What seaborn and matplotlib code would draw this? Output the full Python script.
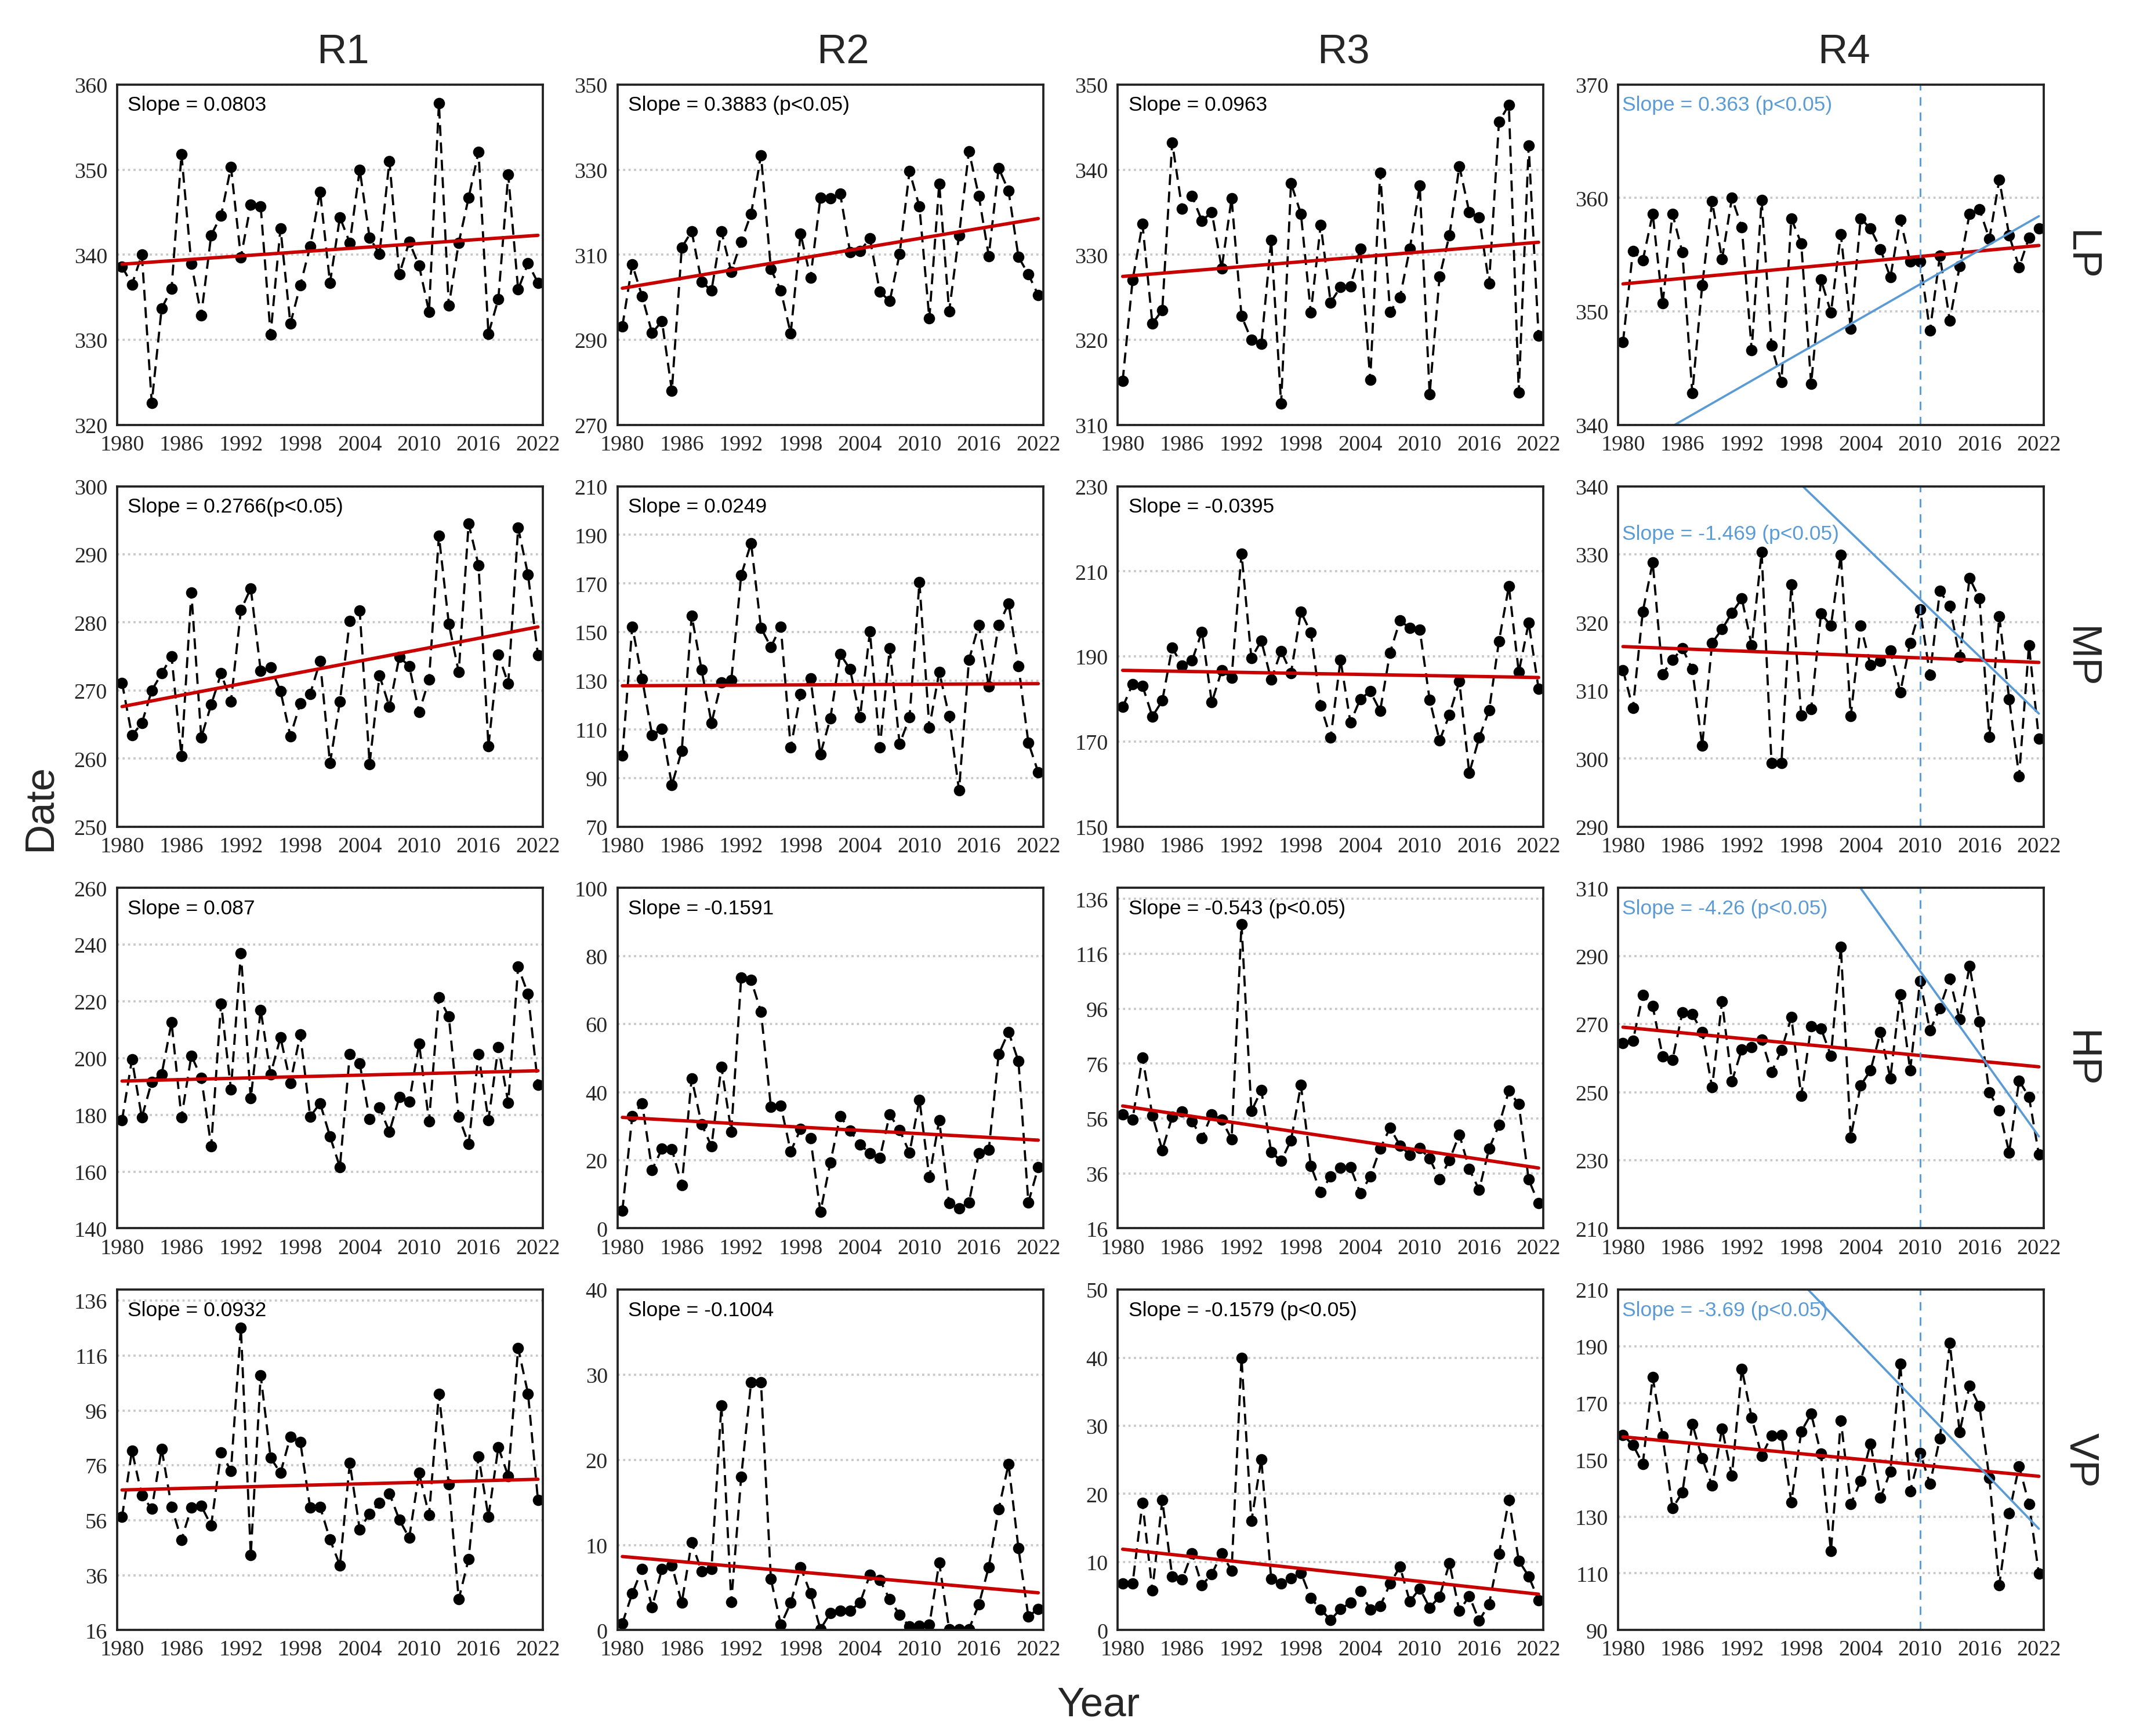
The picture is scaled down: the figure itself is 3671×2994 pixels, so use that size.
import numpy as np
import seaborn as sns
import matplotlib.pyplot as plt

years = np.arange(1980, 2023)
regions = ["R1", "R2", "R3", "R4"]
periods = ["LP", "MP", "HP", "VP"]

# ---- data (1980-2022) ----
lp_r1 = [338.6, 336.5, 340.0, 322.6, 333.7, 336.0, 351.8, 338.9, 332.9, 342.3, 344.6, 350.3, 339.7, 345.9, 345.7,
         330.6, 343.1, 331.9, 336.4, 341.0, 347.4, 336.7, 344.4, 341.4, 350.0, 342.0, 340.1, 351.0, 337.7, 341.5,
         338.7, 333.3, 357.8, 334.0, 341.4, 346.7, 352.1, 330.7, 334.8, 349.4, 335.9, 339.0, 336.7]
lp_r2 = [293.2, 307.7, 300.2, 291.6, 294.4, 278.0, 311.7, 315.5, 303.6, 301.6, 315.5, 306.0, 313.1, 319.6, 333.4,
         306.6, 301.6, 291.5, 314.9, 304.6, 323.4, 323.2, 324.3, 310.6, 310.9, 313.8, 301.3, 299.1, 310.2, 329.6,
         321.3, 295.0, 326.7, 296.7, 314.6, 334.3, 323.8, 309.7, 330.4, 325.0, 309.5, 305.4, 300.5]
lp_r3 = [315.2, 327.0, 333.6, 321.9, 323.5, 343.2, 335.4, 336.9, 334.0, 335.0, 328.4, 336.6, 322.8, 320.0, 319.5,
         331.7, 312.5, 338.4, 334.8, 323.2, 333.5, 324.4, 326.2, 326.3, 330.7, 315.3, 339.6, 323.3, 325.0, 330.7,
         338.1, 313.6, 327.4, 332.3, 340.4, 335.0, 334.4, 326.6, 345.6, 347.6, 313.8, 342.8, 320.5]
lp_r4 = [347.3, 355.3, 354.5, 358.6, 350.7, 358.6, 355.2, 342.8, 352.3, 359.7, 354.6, 360.0, 357.4, 346.6, 359.8,
         347.0, 343.8, 358.2, 356.0, 343.6, 352.8, 349.9, 356.8, 348.5, 358.2, 357.3, 355.5, 353.0, 358.1, 354.4,
         354.4, 348.3, 354.9, 349.2, 354.0, 358.6, 359.0, 356.4, 361.6, 356.7, 353.9, 356.5, 357.3]

mp_r1 = [271.1, 263.4, 265.2, 270.0, 272.5, 275.0, 260.4, 284.4, 263.1, 267.9, 272.5, 268.4, 281.8, 285.0, 272.9,
         273.4, 269.9, 263.3, 268.1, 269.5, 274.3, 259.3, 268.4, 280.2, 281.7, 259.2, 272.2, 267.6, 274.9, 273.6,
         266.8, 271.6, 292.7, 279.8, 272.7, 294.5, 288.4, 261.8, 275.3, 271.0, 293.9, 287.0, 275.2]
mp_r2 = [99.2, 152.3, 130.8, 107.6, 110.2, 87.1, 101.2, 156.8, 134.5, 112.7, 129.4, 130.2, 173.4, 186.6, 151.7,
         143.9, 152.3, 102.5, 124.5, 131.0, 99.8, 114.4, 141.0, 134.7, 114.9, 150.3, 102.5, 143.3, 104.0, 114.9,
         170.5, 110.8, 133.7, 115.4, 84.9, 138.5, 153.0, 127.7, 152.8, 161.8, 136.0, 104.6, 92.3]
mp_r3 = [178.1, 183.5, 183.1, 175.9, 179.6, 192.1, 187.8, 189.0, 195.8, 179.2, 186.7, 185.0, 214.2, 189.6, 193.7,
         184.5, 191.3, 186.1, 200.5, 195.6, 178.4, 170.9, 189.2, 174.5, 180.0, 181.8, 177.2, 190.9, 198.4, 196.7,
         196.3, 179.8, 170.2, 176.3, 184.1, 162.6, 170.9, 177.3, 193.6, 206.5, 186.3, 197.9, 182.4]
mp_r4 = [313.0, 307.4, 321.6, 328.8, 312.4, 314.5, 316.2, 313.1, 301.9, 317.0, 319.0, 321.4, 323.5, 316.6, 330.3,
         299.3, 299.3, 325.6, 306.3, 307.3, 321.3, 319.5, 329.9, 306.2, 319.5, 313.7, 314.3, 315.9, 309.7, 317.0,
         321.9, 312.3, 324.6, 322.4, 314.9, 326.5, 323.5, 303.2, 320.9, 308.7, 297.4, 316.6, 302.9]

hp_r1 = [178.2, 199.5, 179.1, 191.7, 194.3, 212.6, 179.1, 200.9, 193.1, 169.0, 219.3, 189.0, 237.0, 185.8, 217.0,
         194.3, 207.3, 191.3, 208.3, 179.4, 184.1, 172.4, 161.6, 201.4, 198.1, 178.5, 182.6, 174.0, 186.2, 184.6,
         205.0, 177.8, 221.4, 214.7, 179.4, 169.7, 201.4, 178.2, 203.9, 184.3, 232.2, 222.6, 190.6]
hp_r2 = [5.2, 33.0, 36.7, 17.2, 23.4, 23.3, 12.7, 44.1, 30.6, 24.1, 47.5, 28.4, 73.7, 72.9, 63.6,
         35.7, 36.0, 22.6, 29.2, 26.4, 4.8, 19.3, 33.0, 28.7, 24.6, 22.1, 20.7, 33.4, 28.9, 22.2,
         37.8, 15.0, 31.8, 7.4, 5.9, 7.6, 22.1, 23.0, 51.1, 57.7, 49.1, 7.6, 17.9]
hp_r3 = [57.4, 55.7, 78.3, 57.1, 44.5, 56.6, 58.5, 55.0, 48.8, 57.6, 55.5, 48.5, 126.8, 58.7, 66.3,
         43.8, 40.5, 48.1, 68.2, 38.8, 29.1, 35.0, 38.1, 38.3, 28.8, 34.8, 45.0, 52.6, 46.2, 42.8,
         45.2, 41.4, 33.8, 40.9, 50.2, 37.6, 30.0, 45.0, 53.6, 66.1, 61.2, 33.8, 25.1]
hp_r4 = [264.5, 265.1, 278.5, 275.3, 260.5, 259.5, 273.5, 272.9, 267.6, 251.4, 276.6, 253.2, 262.6, 263.3, 265.5,
         255.9, 262.3, 272.0, 248.9, 269.3, 268.7, 260.7, 292.7, 236.7, 252.0, 256.4, 267.6, 254.1, 278.7, 256.4,
         282.7, 268.1, 274.7, 283.3, 271.4, 287.0, 270.8, 249.9, 244.7, 232.3, 253.4, 248.6, 231.7]

vp_r1 = [57.3, 81.3, 65.1, 60.1, 82.0, 60.9, 48.9, 60.6, 61.2, 54.1, 80.7, 74.0, 126.1, 43.3, 108.8,
         78.8, 73.2, 86.4, 84.5, 60.6, 60.9, 49.0, 39.6, 76.8, 52.7, 58.4, 62.3, 65.8, 56.2, 49.6,
         73.2, 57.9, 102.1, 69.1, 27.2, 41.9, 79.3, 57.3, 82.6, 72.1, 118.7, 102.1, 63.4]
vp_r2 = [0.8, 4.3, 7.2, 2.7, 7.2, 7.6, 3.2, 10.3, 6.9, 7.2, 26.4, 3.3, 18.0, 29.1, 29.1,
         6.0, 0.6, 3.2, 7.4, 4.3, 0.1, 2.0, 2.3, 2.3, 3.2, 6.5, 5.9, 3.6, 1.8, 0.4,
         0.5, 0.6, 7.9, 0.1, 0.1, 0.1, 3.0, 7.4, 14.2, 19.5, 9.6, 1.6, 2.5]
vp_r3 = [6.8, 6.8, 18.7, 5.8, 19.1, 7.9, 7.4, 11.3, 6.6, 8.2, 11.3, 8.7, 40.0, 16.0, 25.1,
         7.5, 6.8, 7.6, 8.4, 4.7, 3.0, 1.5, 3.1, 4.0, 5.7, 3.0, 3.5, 6.8, 9.3, 4.2,
         6.1, 3.3, 4.9, 9.8, 2.8, 5.0, 1.4, 3.8, 11.2, 19.1, 10.2, 7.9, 4.4]
vp_r4 = [158.7, 155.3, 148.6, 179.1, 158.3, 133.0, 138.5, 162.7, 150.5, 140.9, 161.0, 144.4, 182.1, 164.8, 151.4,
         158.5, 158.7, 135.1, 160.0, 166.2, 152.1, 117.8, 163.9, 134.4, 142.5, 155.7, 136.6, 145.9, 183.9, 138.9,
         152.5, 141.6, 157.5, 191.2, 159.8, 176.2, 168.9, 143.6, 105.9, 131.2, 147.8, 134.5, 109.8]

series = [[lp_r1, lp_r2, lp_r3, lp_r4],
          [mp_r1, mp_r2, mp_r3, mp_r4],
          [hp_r1, hp_r2, hp_r3, hp_r4],
          [vp_r1, vp_r2, vp_r3, vp_r4]]

slope_labels = [["Slope = 0.0803", "Slope = 0.3883 (p<0.05)", "Slope = 0.0963", "Slope = 0.363 (p<0.05)"],
                ["Slope = 0.2766(p<0.05)", "Slope = 0.0249", "Slope = -0.0395", "Slope = -1.469 (p<0.05)"],
                ["Slope = 0.087", "Slope = -0.1591", "Slope = -0.543 (p<0.05)", "Slope = -4.26 (p<0.05)"],
                ["Slope = 0.0932", "Slope = -0.1004", "Slope = -0.1579 (p<0.05)", "Slope = -3.69 (p<0.05)"]]

# y axis: (lower, upper, step, top tick)
y_axes = [[(320, 360, 10, 360), (270, 350, 20, 350), (310, 350, 10, 350), (340, 370, 10, 370)],
          [(250, 300, 10, 300), (70, 210, 20, 210), (150, 230, 20, 230), (290, 340, 10, 340)],
          [(140, 260, 20, 260), (0, 100, 20, 100), (16, 140, 20, 136), (210, 310, 20, 310)],
          [(16, 140, 20, 136), (0, 40, 10, 40), (0, 50, 10, 50), (90, 210, 20, 210)]]

# R4 post-change-point trend (value at change year and at 2022)
change_year = 2010
r4_trend_start = [352.4, 323.4, 285.6, 169.1]
r4_trend_end = [358.4, 306.6, 237.0, 125.7]

xticks = np.arange(1980, 2023, 6)

sns.set_style("white")
plt.rcParams["font.family"] = ["Liberation Sans", "DejaVu Sans"]

fig, axes = plt.subplots(4, 4, figsize=(3671 / 300, 2995 / 300), dpi=300)
fig.subplots_adjust(left=0.055, right=0.96, top=0.951, bottom=0.061, wspace=0.175, hspace=0.18)

red = "#c80000"
blue = "#5b9bd5"

for i in range(4):
    for j in range(4):
        ax = axes[i, j]
        vals = np.array(series[i][j])
        lo, hi, step, top = y_axes[i][j]

        ax.yaxis.grid(True, linestyle=(0, (1, 1.5)), color="#c8c8c8", lw=0.9)
        ax.set_axisbelow(True)

        sns.lineplot(x=years, y=vals, ax=ax, color="black", lw=0.9, linestyle=(0, (5, 3)),
                     marker="o", markersize=4.2, markeredgecolor="black", markeredgewidth=0.5,
                     errorbar=None)
        sns.regplot(x=years, y=vals, ax=ax, scatter=False, ci=None, color=red,
                    line_kws={"lw": 1.4})

        txt_color = "black"
        txt_x, txt_y = 0.025, 0.94
        if j == 3:
            txt_color = blue
            txt_x = 0.01
            k = r4_trend_end[i] - r4_trend_start[i]
            trend = r4_trend_start[i] + k / (2022 - change_year) * (years - change_year)
            ax.plot(years, trend, color=blue, lw=0.9)
            ax.axvline(change_year, color=blue, lw=0.7, linestyle=(0, (5, 4)))
            if i == 1:
                txt_y = 0.86
        ax.text(txt_x, txt_y, slope_labels[i][j], transform=ax.transAxes, fontsize=8.5,
                color=txt_color, va="center", ha="left")

        ax.set_xlim(1979.5, 2022.5)
        ax.set_ylim(lo, hi)
        ax.set_xticks(xticks)
        ax.set_yticks(np.arange(lo, top + 1, step))
        ax.tick_params(length=0, pad=4)
        for lab in ax.get_xticklabels() + ax.get_yticklabels():
            lab.set_fontfamily("Liberation Serif")
            lab.set_fontsize(9.2)
        ax.set_xlabel("")
        ax.set_ylabel("")
        for sp in ax.spines.values():
            sp.set_visible(True)
            sp.set_color("#222222")
            sp.set_linewidth(0.9)

        if i == 0:
            ax.set_title(regions[j], fontsize=17, pad=9, x=0.53)
        if j == 3:
            ax.text(1.085, 0.5, periods[i], transform=ax.transAxes, rotation=270,
                    fontsize=17, va="center", ha="center")

fig.text(0.019, 0.535, "Date", rotation=90, fontsize=17, va="center", ha="center")
fig.text(0.516, 0.018, "Year", fontsize=17, va="center", ha="center")

fig.savefig("out.png", dpi=300, facecolor="white")
